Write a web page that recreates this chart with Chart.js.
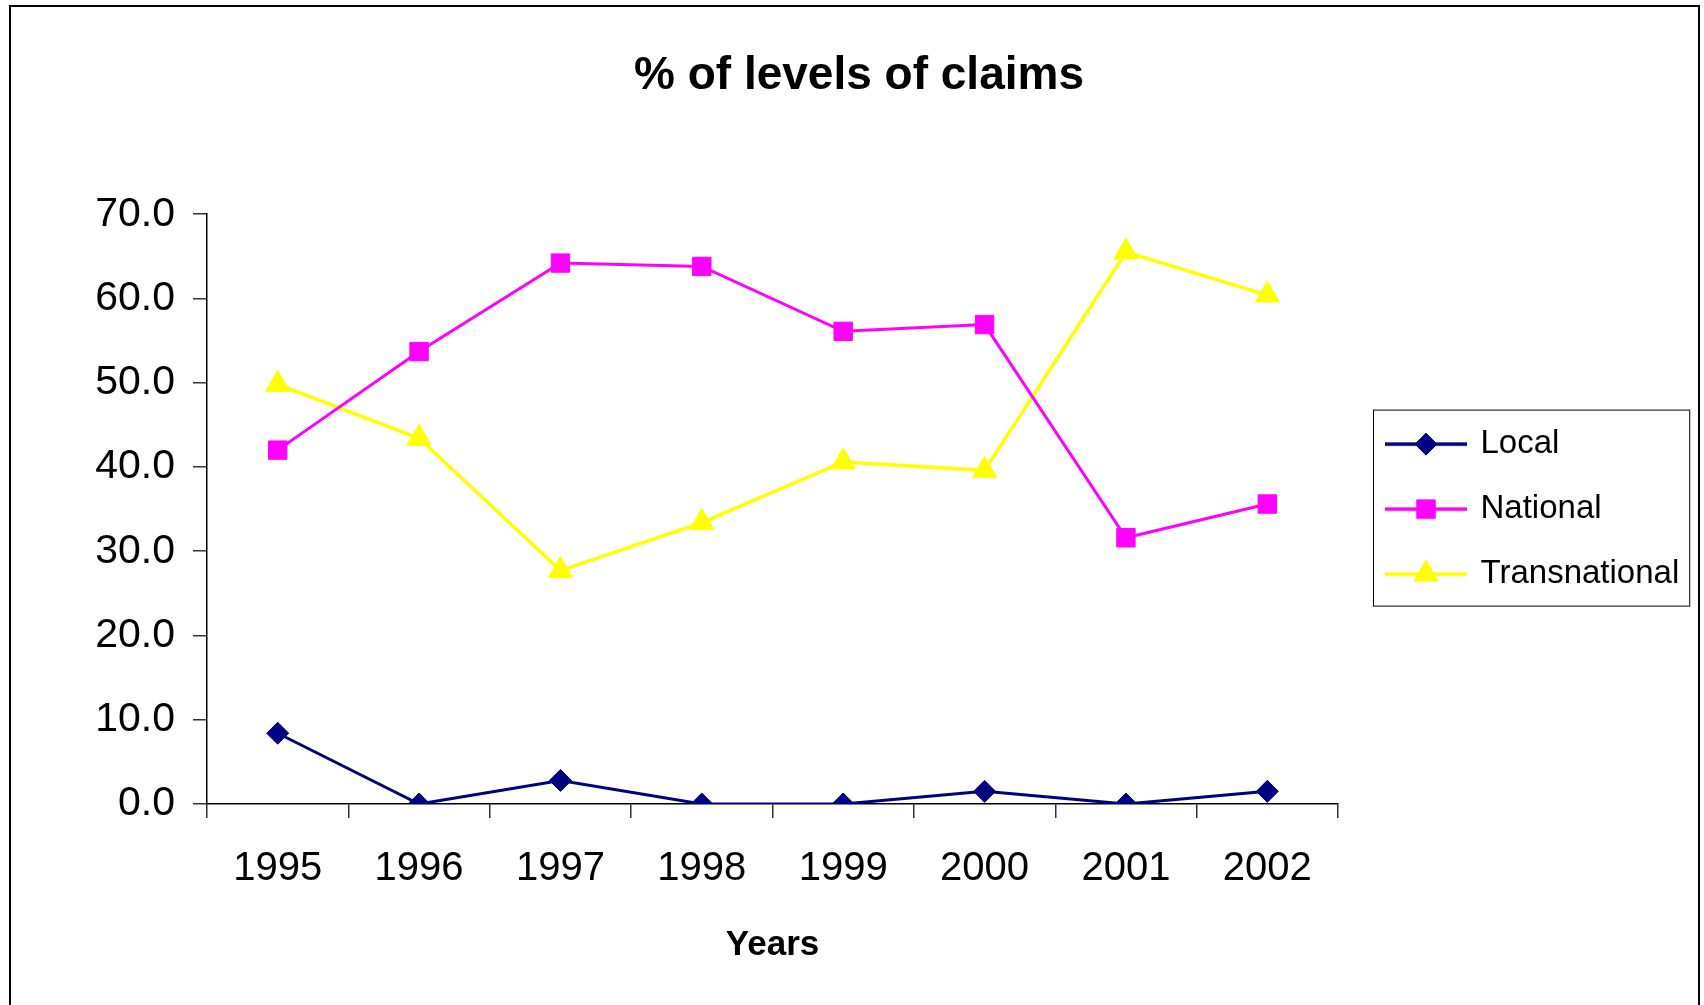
<!DOCTYPE html>
<html>
<head>
<meta charset="utf-8">
<script src="https://cdn.jsdelivr.net/npm/chart.js@4"></script>
<style>
    body { margin: 0; background: #fff; }
    canvas { display: block; }
</style>
</head>
<body>
<canvas id="claimsChart" width="1704" height="1005"></canvas>
<script>
const YEARS = ["1995", "1996", "1997", "1998", "1999", "2000", "2001", "2002"];
const LOCAL = [8.4, 0.0, 2.8, 0.0, 0.0, 1.5, 0.0, 1.5];
const NATIONAL = [42.0, 53.7, 64.2, 63.8, 56.1, 56.9, 31.6, 35.6];
const TRANSNATIONAL = [49.8, 43.4, 27.7, 33.4, 40.6, 39.6, 65.5, 60.4];

const FONT = "'Liberation Sans', Arial, sans-serif";

// line + marker sample for the legend
function makeLegendIcon(color, style, radius) {
    const c = document.createElement("canvas");
    c.width = 100;
    c.height = 32;
    const g = c.getContext("2d");
    g.strokeStyle = color;
    g.lineWidth = 3.5;
    g.beginPath();
    g.moveTo(18, 16);
    g.lineTo(100, 16);
    g.stroke();
    g.fillStyle = color;
    g.lineWidth = 1;
    Chart.helpers.drawPoint(g, { pointStyle: style, radius: radius, rotation: 0, borderWidth: 1 }, 59, 16);
    return c;
}

const legendIcons = [
    makeLegendIcon("#000080", "rectRot", 11),
    makeLegendIcon("#FF00FF", "rect", 13),
    makeLegendIcon("#FFFF00", "triangle", 14)
];

const framePlugin = {
    id: "frame",
    beforeDraw(chart) {
        const ctx = chart.ctx;
        ctx.save();
        ctx.fillStyle = "#fff";
        ctx.fillRect(0, 0, chart.width, chart.height);
        ctx.restore();
    },
    afterDraw(chart) {
        const ctx = chart.ctx;
        ctx.save();
        ctx.strokeStyle = "#000";
        ctx.lineWidth = 2;
        ctx.strokeRect(10, 6, 1689, 1100);

        // box round the legend
        const boxes = chart.legend.legendHitBoxes;
        if (boxes && boxes.length) {
            const first = boxes[0];
            const last = boxes[boxes.length - 1];
            const right = Math.max(...boxes.map(b => b.left + b.width));
            const left = first.left + 3.5;
            const top = first.top - 17.5;
            const bottom = last.top + last.height + 15.5;
            ctx.lineWidth = 1;
            ctx.strokeRect(left, top, right + 10.5 - left, bottom - top);
        }
        ctx.restore();
    }
};

new Chart(document.getElementById("claimsChart"), {
    type: "line",
    data: {
        labels: YEARS,
        datasets: [
            {
                label: "Local",
                data: LOCAL,
                borderColor: "#000080",
                backgroundColor: "#000080",
                borderWidth: 3,
                pointStyle: "rectRot",
                pointRadius: 11,
                pointBorderWidth: 1
            },
            {
                label: "National",
                data: NATIONAL,
                borderColor: "#FF00FF",
                backgroundColor: "#FF00FF",
                borderWidth: 3,
                pointStyle: "rect",
                pointRadius: 13,
                pointBorderWidth: 1
            },
            {
                label: "Transnational",
                data: TRANSNATIONAL,
                borderColor: "#FFFF00",
                backgroundColor: "#FFFF00",
                borderWidth: 3.5,
                pointStyle: "triangle",
                pointRadius: 14,
                pointBorderWidth: 1
            }
        ]
    },
    options: {
        responsive: false,
        animation: false,
        layout: { padding: { left: 40, right: 26, top: 0, bottom: 0 } },
        elements: { line: { tension: 0 } },
        scales: {
            x: {
                offset: true,
                grid: { offset: true, drawOnChartArea: false, tickLength: 14, color: "#333", lineWidth: 1.5 },
                border: { color: "#000", width: 1.5 },
                ticks: { color: "#000", padding: 27, font: { family: FONT, size: 40 } },
                title: {
                    display: true,
                    text: "Years",
                    color: "#000",
                    font: { family: FONT, size: 35, weight: "bold" },
                    padding: { top: 0, bottom: 39 }
                },
                afterFit: (scale) => { scale.height = 201; }
            },
            y: {
                min: 0,
                max: 70,
                grid: { drawOnChartArea: false, tickLength: 14, color: "#333", lineWidth: 1.5 },
                border: { color: "#000", width: 1.5 },
                ticks: {
                    stepSize: 10,
                    color: "#000",
                    padding: 18,
                    font: { family: FONT, size: 41 },
                    callback: (v) => v.toFixed(1)
                },
                afterFit: (scale) => { scale.width = 167; }
            }
        },
        plugins: {
            title: {
                display: true,
                text: "% of levels of claims",
                color: "#000",
                font: { family: FONT, size: 46, weight: "bold" },
                padding: { top: 49, bottom: 110 }
            },
            legend: {
                position: "right",
                fullSize: false,
                maxWidth: 340,
                labels: {
                    color: "#000",
                    font: { family: FONT, size: 33 },
                    padding: 32,
                    usePointStyle: true,
                    pointStyleWidth: 94,
                    generateLabels: (chart) => {
                        const items = Chart.defaults.plugins.legend.labels.generateLabels(chart);
                        return items.map((item, i) => ({ ...item, pointStyle: legendIcons[i] }));
                    }
                }
            },
            tooltip: { enabled: false }
        }
    },
    plugins: [framePlugin]
});
</script>
</body>
</html>
